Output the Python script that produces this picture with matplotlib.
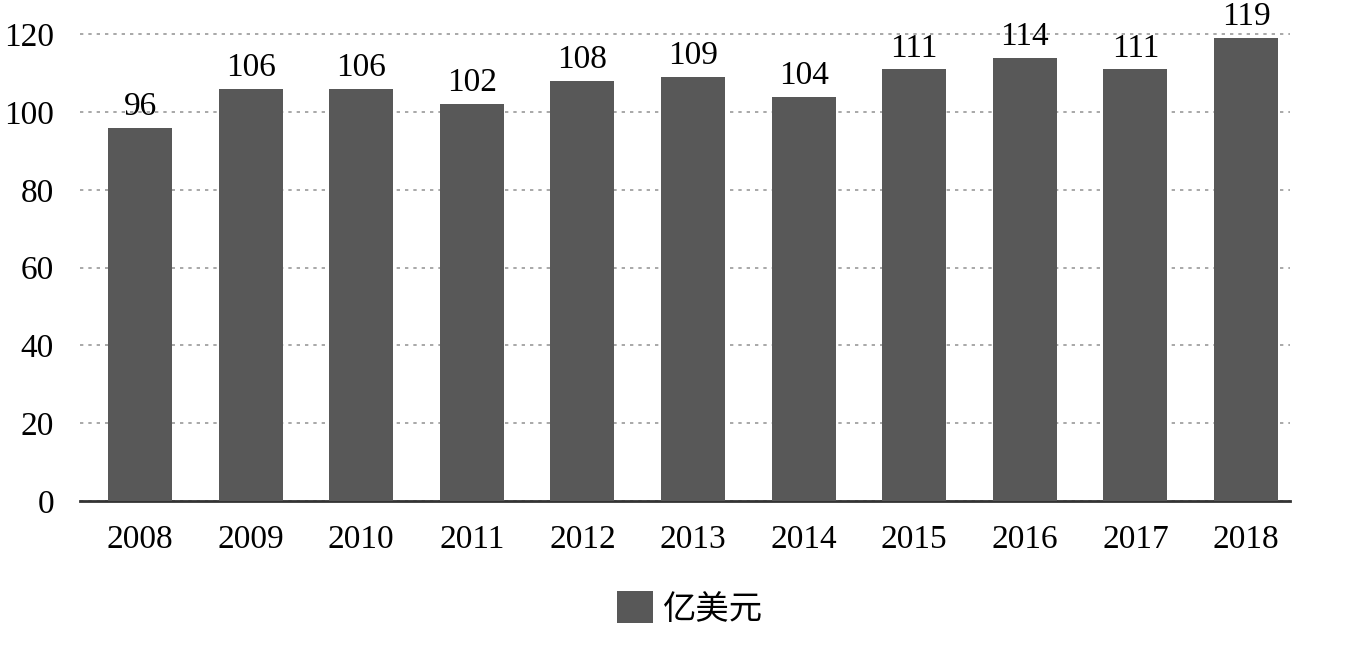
import matplotlib

matplotlib.use("Agg")
import matplotlib.pyplot as plt
import numpy as np

years = ["2008", "2009", "2010", "2011", "2012", "2013", "2014", "2015", "2016", "2017", "2018"]
values = [96, 106, 106, 102, 108, 109, 104, 111, 114, 111, 119]
yticks = [0, 20, 40, 60, 80, 100, 120]
series_name = "亿美元"

plt.rcParams["font.family"] = ["Liberation Serif", "Noto Sans CJK SC"]

fig = plt.figure(figsize=(13.61, 6.48), dpi=100)
ax = fig.add_axes([0.059, 0.227, 0.889, 0.75])

x = np.arange(len(years))
bars = ax.bar(x, values, width=0.58, color="#585858", label=series_name, zorder=3)
for xi, v in zip(x, values):
    ax.text(xi, v + 1.5, str(v), ha="center", va="bottom", fontsize=24, zorder=4)

ax.set_xlim(-0.54, 10.4)
ax.set_ylim(0, 125)
ax.set_yticks(yticks)
ax.set_xticks(x)
ax.set_xticklabels(years)
ax.tick_params(axis="both", length=0, labelsize=24)
ax.tick_params(axis="x", pad=17)
ax.tick_params(axis="y", pad=19)
for s in ["top", "right", "left"]:
    ax.spines[s].set_visible(False)
ax.spines["bottom"].set_color("#333333")
ax.spines["bottom"].set_linewidth(2)
ax.grid(axis="y", linestyle=(0, (2, 3)), color="#999999", linewidth=1.2, zorder=0)
ax.xaxis.grid(False)

fig.legend(handles=[bars], labels=[series_name], loc="center", bbox_to_anchor=(0.507, 0.06),
           frameon=False, handlelength=1.1, handleheight=1.1, handletextpad=0.3,
           prop={"family": ["Noto Sans CJK SC"], "size": 24})

fig.savefig("out.png", dpi=100)
